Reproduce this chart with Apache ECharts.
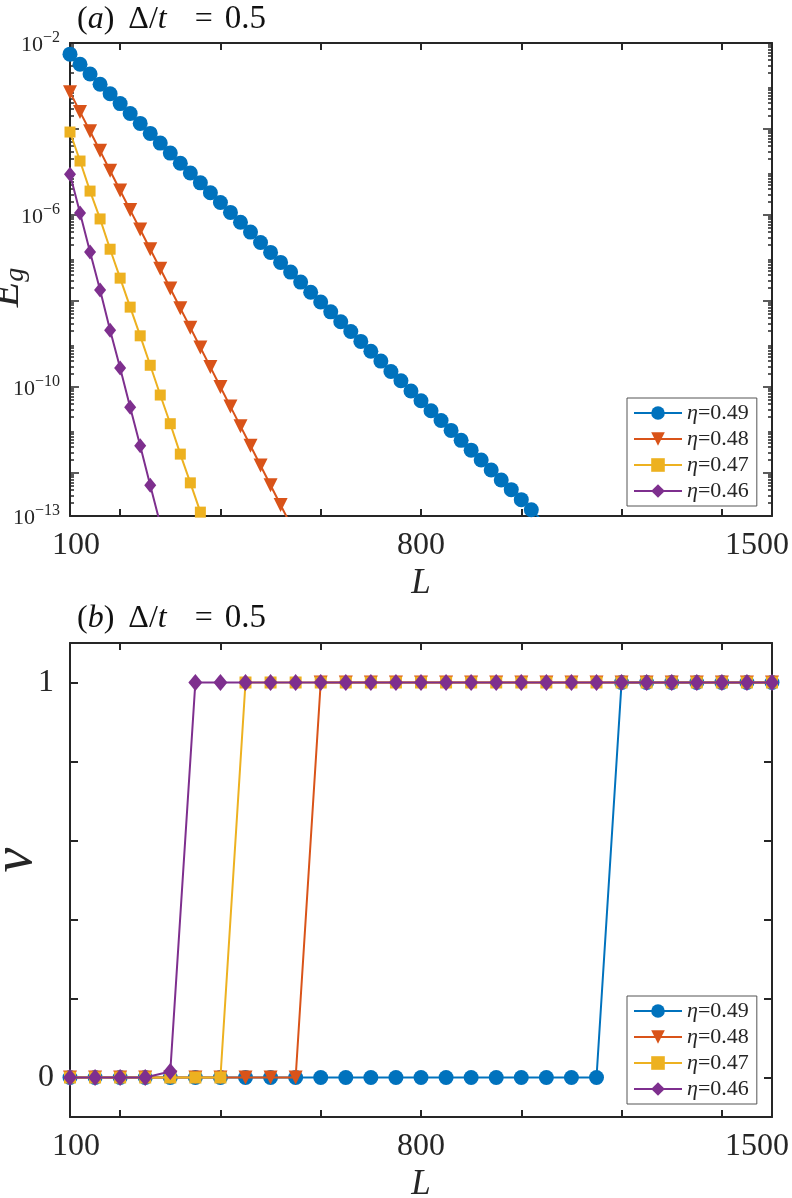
<!DOCTYPE html>
<html>
<head>
<meta charset="utf-8">
<script src="https://cdn.jsdelivr.net/npm/echarts@6/dist/echarts.min.js"></script>
<style>
  html, body { margin: 0; padding: 0; background: #fff; }
  #chart { width: 792px; height: 1198px; }
</style>
</head>
<body>
<div id="chart"></div>
<script>
// system sizes L
const lTop = [100, 120, 140, 160, 180, 200, 220, 240, 260, 280, 300, 320, 340, 360, 380, 400,
  420, 440, 460, 480, 500, 520, 540, 560, 580, 600, 620, 640, 660, 680, 700, 720, 740, 760,
  780, 800, 820, 840, 860, 880, 900, 920, 940, 960, 980, 1000, 1020, 1040];
const lBottom = [100, 150, 200, 250, 300, 350, 400, 450, 500, 550, 600, 650, 700, 750, 800,
  850, 900, 950, 1000, 1050, 1100, 1150, 1200, 1250, 1300, 1350, 1400, 1450, 1500];

const etaNames = ['η=0.49', 'η=0.48', 'η=0.47', 'η=0.46'];

// (a) gap E_g
const gap049 = [5.5e-3, 3.2e-3, 1.9e-3, 1.1e-3, 6.6e-4, 3.9e-4, 2.3e-4, 1.35e-4, 7.9e-5, 4.7e-5,
  2.75e-5, 1.6e-5, 9.5e-6, 5.6e-6, 3.3e-6, 1.95e-6, 1.15e-6, 6.8e-7, 4.0e-7, 2.3e-7, 1.35e-7,
  7.9e-8, 4.7e-8, 2.75e-8, 1.6e-8, 9.5e-9, 5.6e-9, 3.3e-9, 1.95e-9, 1.15e-9, 6.8e-10, 4.0e-10,
  2.3e-10, 1.4e-10, 8.1e-11, 4.8e-11, 2.8e-11, 1.66e-11, 9.8e-12, 5.75e-12, 3.4e-12, 2.0e-12,
  1.17e-12, 6.9e-13, 4.1e-13, 2.4e-13, 1.4e-13, 8.1e-14];
const gap048 = [7.2e-4, 2.5e-4, 8.9e-5, 3.1e-5, 1.07e-5, 3.7e-6, 1.3e-6, 4.6e-7, 1.6e-7, 5.6e-8,
  1.95e-8, 6.8e-9, 2.4e-9, 8.3e-10, 2.9e-10, 1.0e-10, 3.5e-11, 1.23e-11, 4.3e-12, 1.5e-12,
  5.2e-13, 1.8e-13, 6.3e-14];
const gap047 = [8.5e-5, 1.8e-5, 3.6e-6, 8.1e-7, 1.6e-7, 3.4e-8, 7.2e-9, 1.55e-9, 3.2e-10,
  6.5e-11, 1.4e-11, 2.75e-12, 5.9e-13, 1.23e-13];
const gap046 = [8.9e-6, 1.12e-6, 1.38e-7, 1.8e-8, 2.1e-9, 2.75e-10, 3.4e-11, 4.3e-12, 5.2e-13, 6.5e-14];

// (b) invariant nu
const nu049 = [0, 0, 0, 0, 0, 0, 0, 0, 0, 0, 0, 0, 0, 0, 0, 0, 0, 0, 0, 0, 0, 0, 1, 1, 1, 1, 1, 1, 1];
const nu048 = [0, 0, 0, 0, 0, 0, 0, 0, 0, 0, 1, 1, 1, 1, 1, 1, 1, 1, 1, 1, 1, 1, 1, 1, 1, 1, 1, 1, 1];
const nu047 = [0, 0, 0, 0, 0, 0, 0, 1, 1, 1, 1, 1, 1, 1, 1, 1, 1, 1, 1, 1, 1, 1, 1, 1, 1, 1, 1, 1, 1];
const nu046 = [0, 0, 0, 0, 0.015, 1, 1, 1, 1, 1, 1, 1, 1, 1, 1, 1, 1, 1, 1, 1, 1, 1, 1, 1, 1, 1, 1, 1, 1];

// ticks
const xTicks = [200, 400, 600, 800, 1000, 1200, 1400];
const xLabels = [100, 800, 1500];
const gapMajorExp = [-2, -4, -6, -8, -10, -12];
const gapLabelExp = [-2, -6, -10, -13];
const nuTicks = [0, 0.2, 0.4, 0.6, 0.8, 1];
const nuLabels = [0, 1];

// minor log ticks (2..9 x 10^k)
const gapMinorExp = [];
for (let k = -13; k < -2; k++) {
	for (let m = 2; m <= 9; m++) gapMinorExp.push(k + Math.log10(m));
}

const colors = ['#0072BD', '#D95319', '#EDB120', '#7E2F8E'];
const serif = "'Liberation Serif', 'DejaVu Serif', serif";
const ink = '#262626';

const chart = echarts.init(document.getElementById('chart'), null, { renderer: 'canvas' });

const axisLine = { show: true, onZero: false, lineStyle: { color: ink, width: 2 } };

// x axes for one grid: bottom one with labels, top one plain
const xAxesFor = (gi) => [
	{
		gridIndex: gi, type: 'value', min: 100, max: 1500, position: 'bottom',
		axisLine: axisLine,
		axisTick: { show: true, inside: true, length: 7, customValues: xTicks, lineStyle: { color: ink, width: 2 } },
		axisLabel: {
			customValues: xLabels, margin: 14, color: ink,
			formatter: (v) => v === 100 ? '{l|100}' : (v === 1500 ? '{r|1500}' : '{c|' + v + '}'),
			rich: {
				l: { fontFamily: serif, fontSize: 32, color: ink, padding: [0, 0, 0, 12] },
				c: { fontFamily: serif, fontSize: 32, color: ink },
				r: { fontFamily: serif, fontSize: 32, color: ink, padding: [0, 30, 0, 0] }
			}
		},
		splitLine: { show: false },
		name: 'L', nameLocation: 'middle', nameGap: 50, nameMoveOverlap: false,
		nameTextStyle: { fontFamily: serif, fontStyle: 'italic', fontSize: 35, color: ink }
	},
	{
		gridIndex: gi, type: 'value', min: 100, max: 1500, position: 'top',
		axisLine: axisLine,
		axisTick: { show: true, inside: true, length: 7, customValues: xTicks, lineStyle: { color: ink, width: 2 } },
		axisLabel: { show: false },
		splitLine: { show: false }
	}
];

const expLabel = (v) => '{b|10}{s|−' + Math.abs(Math.round(v)) + '}';

const decoY = (position, withLine, ticks, len, labels) => ({
	gridIndex: 0, type: 'value', min: -13, max: -2, position: position,
	axisLine: withLine ? axisLine : { show: false },
	axisTick: { show: true, inside: true, length: len, customValues: ticks, lineStyle: { color: ink, width: 1.5 } },
	axisLabel: labels ? {
		customValues: labels, margin: 10, formatter: expLabel,
		rich: {
			b: { fontFamily: serif, fontSize: 22, color: ink, lineHeight: 26, verticalAlign: 'bottom' },
			s: { fontFamily: serif, fontSize: 16, color: ink, lineHeight: 12, verticalAlign: 'top' }
		}
	} : { show: false },
	splitLine: { show: false }
});

const yAxes = [
	// 0: log axis carrying the gap data
	{ gridIndex: 0, type: 'log', logBase: 10, min: 1e-13, max: 1e-2, show: false },
	// 1..4: left/right decoration in exponent units
	Object.assign(decoY('left', true, gapMajorExp, 9, gapLabelExp), {
		name: '{e|E}{g|g}', nameLocation: 'middle', nameRotate: 90, nameGap: 40, nameMoveOverlap: false,
		nameTextStyle: {
			padding: [0, 16, 0, 0],
			rich: {
				e: { fontFamily: serif, fontStyle: 'italic', fontSize: 42, color: ink, lineHeight: 44, verticalAlign: 'top' },
				g: { fontFamily: serif, fontStyle: 'italic', fontSize: 28, color: ink, lineHeight: 30, verticalAlign: 'bottom' }
			}
		}
	}),
	decoY('left', false, gapMinorExp, 4, null),
	decoY('right', true, gapMajorExp, 9, null),
	decoY('right', false, gapMinorExp, 4, null),
	// 5: nu axis
	{
		gridIndex: 1, type: 'value', min: -0.1, max: 1.1, position: 'left',
		axisLine: axisLine,
		axisTick: { show: true, inside: true, length: 8, customValues: nuTicks, lineStyle: { color: ink, width: 2 } },
		axisLabel: { customValues: nuLabels, margin: 16, fontFamily: serif, fontSize: 32, color: ink },
		splitLine: { show: false },
		name: 'ν', nameLocation: 'middle', nameRotate: 90, nameGap: 26, nameMoveOverlap: false,
		nameTextStyle: { fontFamily: serif, fontStyle: 'italic', fontSize: 56, color: ink, padding: [0, 0, 0, 40] }
	},
	{
		gridIndex: 1, type: 'value', min: -0.1, max: 1.1, position: 'right',
		axisLine: axisLine,
		axisTick: { show: true, inside: true, length: 8, customValues: nuTicks, lineStyle: { color: ink, width: 2 } },
		axisLabel: { show: false },
		splitLine: { show: false }
	}
];

const symbols = ['circle', 'triangle', 'rect', 'diamond'];
const topSizes = [15, 14, 11, [12, 15]];
const botSizes = [15, 14, 12, [14, 17]];
const gaps = [gap049, gap048, gap047, gap046];
const nus = [nu049, nu048, nu047, nu046];

const series = [];
gaps.forEach((vals, i) => {
	series.push({
		type: 'line', name: etaNames[i], xAxisIndex: 0, yAxisIndex: 0,
		data: vals.map((v, j) => [lTop[j], v]),
		symbol: symbols[i], symbolSize: topSizes[i], symbolRotate: i === 1 ? 180 : 0,
		itemStyle: { color: colors[i] }, lineStyle: { color: colors[i], width: 2 },
		clip: true, z: 2 + i
	});
});
nus.forEach((vals, i) => {
	series.push({
		type: 'line', name: etaNames[i], xAxisIndex: 2, yAxisIndex: 5,
		data: vals.map((v, j) => [lBottom[j], v]),
		symbol: symbols[i], symbolSize: botSizes[i], symbolRotate: i === 1 ? 180 : 0,
		itemStyle: { color: colors[i] }, lineStyle: { color: colors[i], width: 2 },
		clip: true, z: 2 + i
	});
});

const legendFor = (top) => ({
	data: etaNames, orient: 'vertical', left: 627, top: top,
	padding: [4, 8, 4, 6], itemGap: 4, itemWidth: 48, itemHeight: 17,
	borderColor: '#555', borderWidth: 1, backgroundColor: '#fff', borderRadius: 0,
	selectedMode: false,
	formatter: (name) => '{i|η}{n|' + name.slice(1) + '}',
	textStyle: {
		rich: {
			i: { fontFamily: serif, fontStyle: 'italic', fontSize: 22, color: ink, lineHeight: 21 },
			n: { fontFamily: serif, fontSize: 22, color: ink, lineHeight: 21 }
		}
	}
});

const tStyle = { fontFamily: serif, fontSize: 32, fontWeight: 'normal', color: '#111' };
const titleRich = {
	n: tStyle,
	i: Object.assign({}, tStyle, { fontStyle: 'italic' }),
	d: Object.assign({}, tStyle, { fontSize: 33 }),
	g1: Object.assign({}, tStyle, { width: 14 }),
	g2: Object.assign({}, tStyle, { width: 28 }),
	g3: Object.assign({}, tStyle, { width: 12 })
};
const titleText = (p) => '{n|(}{i|' + p + '}{n|)}{g1| }{n|Δ/}{i|t}{g2| }{n|=}{g3| }{d|0.5}';

chart.setOption({
	animation: false,
	backgroundColor: '#fff',
	title: [
		{ text: titleText('a'), left: 77, top: 3, padding: 0, textStyle: { fontWeight: 'normal', rich: titleRich } },
		{ text: titleText('b'), left: 77, top: 602, padding: 0, textStyle: { fontWeight: 'normal', rich: titleRich } }
	],
	grid: [
		{ left: 70, top: 43, width: 702, height: 473, outerBoundsMode: 'none', containLabel: false },
		{ left: 70, top: 643, width: 702, height: 474, outerBoundsMode: 'none', containLabel: false }
	],
	legend: [legendFor(398), legendFor(996)],
	xAxis: xAxesFor(0).concat(xAxesFor(1)),
	yAxis: yAxes,
	series: series
});
</script>
</body>
</html>
